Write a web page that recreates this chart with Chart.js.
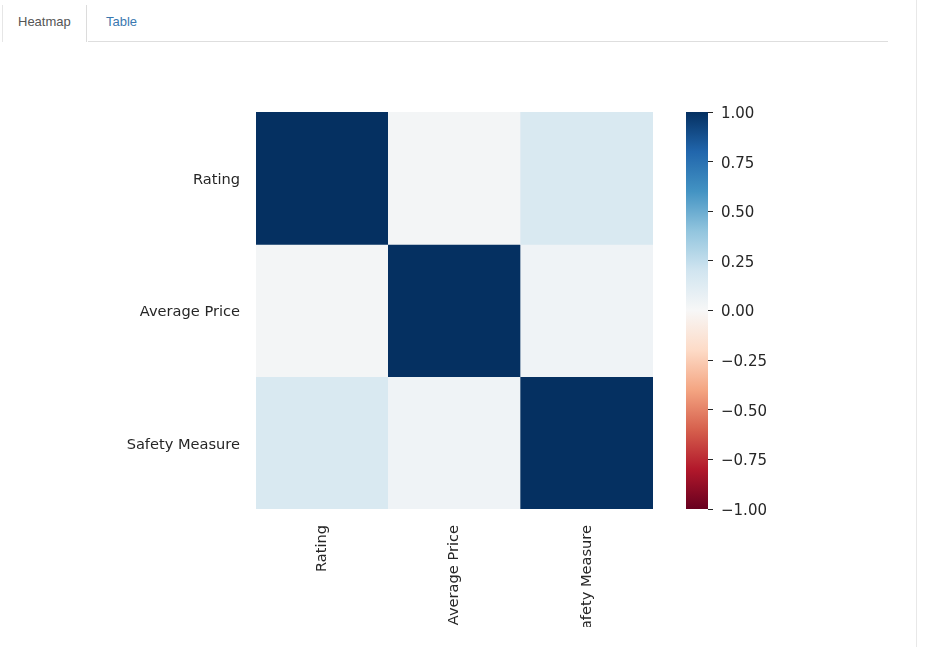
<!DOCTYPE html>
<html><head><meta charset="utf-8">
<script src="https://cdn.jsdelivr.net/npm/chart.js@4"></script>
<style>
html,body{margin:0;padding:0;background:#fff;width:932px;height:647px;overflow:hidden;font-family:"Liberation Sans",Arial,sans-serif;}
.tabline{position:absolute;left:88px;top:41px;width:800px;height:1px;background:#dedede;}
.tab-active{position:absolute;left:2px;top:5px;width:85px;height:37px;border-left:1px solid #e6e6e6;border-right:1px solid #dcdcdc;box-sizing:border-box;}
.tab-active span{position:absolute;left:15px;top:9px;font-size:13px;color:#555;}
.tab{position:absolute;left:106px;top:14px;font-size:13px;color:#3a78b0;}
.vline{position:absolute;left:916px;top:0;width:1px;height:647px;background:#e8e8e8;}
#heat{position:absolute;left:0;top:100px;}
#cbar{position:absolute;left:676px;top:100px;}
</style>
</head><body>
<div class="tab-active"><span>Heatmap</span></div>
<div class="tab">Table</div>
<div class="tabline"></div>
<div class="vline"></div>
<canvas id="heat" width="680" height="527"></canvas>
<canvas id="cbar" width="120" height="421"></canvas>
<script>
// ---- data ----
const labels = ['Rating', 'Average Price', 'Safety Measure'];
const rowRating = [1.00, 0.02, 0.16];
const rowAveragePrice = [0.02, 1.00, 0.04];
const rowSafetyMeasure = [0.16, 0.04, 1.00];
const colorbarTicks = [-1.00, -0.75, -0.50, -0.25, 0.00, 0.25, 0.50, 0.75, 1.00];
const cmapStops = ['#67001f','#b2182b','#d6604d','#f4a582','#fddbc7','#f7f7f7','#d1e5f0','#92c5de','#4393c3','#2166ac','#053061'];

const rows = [rowRating, rowAveragePrice, rowSafetyMeasure];

function hex(h){return [parseInt(h.substr(1,2),16),parseInt(h.substr(3,2),16),parseInt(h.substr(5,2),16)];}
function cmap(v){
  let t=(Math.max(-1,Math.min(1,v))+1)/2*10;
  let i=Math.min(9,Math.floor(t)); let f=t-i;
  const a=hex(cmapStops[i]), b=hex(cmapStops[i+1]);
  const c=a.map((x,k)=>Math.round(x+(b[k]-x)*f));
  return 'rgb('+c.join(',')+')';
}
const textColor='#262626';
const tickFont={family:'"DejaVu Sans"',size:14.6};
function noPad(s){s.paddingTop=0;s.paddingBottom=0;}

new Chart(document.getElementById('heat'),{
  type:'bar',
  data:{
    labels:labels,
    datasets:rows.map((row,r)=>({
      data:row.map(()=>[r,r+1]),
      backgroundColor:row.map(cmap),
      borderWidth:0,
      barPercentage:1,
      categoryPercentage:1,
      grouped:false
    }))
  },
  options:{
    responsive:false,
    animation:false,
    layout:{padding:{left:0,top:12,right:27,bottom:0}},
    plugins:{legend:{display:false},tooltip:{enabled:false}},
    scales:{
      x:{
        grid:{display:false,drawTicks:false},
        border:{display:false},
        ticks:{minRotation:90,maxRotation:90,autoSkip:false,padding:16,color:textColor,font:tickFont},
        afterFit(s){s.height=118;s.paddingLeft=0;s.paddingRight=0;}
      },
      y:{
        min:0,max:3,reverse:true,
        grid:{display:false,drawTicks:false},
        border:{display:false},
        afterBuildTicks(s){s.ticks=[0.5,1.5,2.5].map(v=>({value:v}));},
        ticks:{padding:16,labelOffset:2,color:textColor,font:tickFont,callback:(v,i)=>labels[i]},
        afterFit(s){s.width=256;noPad(s);}
      }
    }
  }
});

new Chart(document.getElementById('cbar'),{
  type:'bar',
  data:{
    labels:['colorbar'],
    datasets:[{
      data:[[colorbarTicks[0],colorbarTicks[colorbarTicks.length-1]]],
      backgroundColor:(c)=>{
        const a=c.chart.chartArea; if(!a) return '#ccc';
        const g=c.chart.ctx.createLinearGradient(0,a.bottom,0,a.top);
        cmapStops.forEach((s,i)=>g.addColorStop(i/10,s));
        return g;
      },
      borderWidth:0,barPercentage:1,categoryPercentage:1
    }]
  },
  options:{
    responsive:false,
    animation:false,
    layout:{padding:{left:10,top:12,bottom:12,right:0}},
    plugins:{legend:{display:false},tooltip:{enabled:false}},
    scales:{
      x:{display:false},
      y:{
        position:'right',min:-1,max:1,
        afterBuildTicks(s){s.ticks=colorbarTicks.map(v=>({value:v}));},
        grid:{drawOnChartArea:false,drawTicks:true,tickLength:5,tickColor:textColor,tickWidth:1},
        border:{display:false},
        ticks:{padding:8,labelOffset:2,color:textColor,font:{family:'"DejaVu Sans"',size:15},callback:(v)=>Number(v).toFixed(2).replace('-','\u2212')},
        afterFit(s){s.width=88;noPad(s);}
      }
    }
  }
});
</script>
</body></html>
